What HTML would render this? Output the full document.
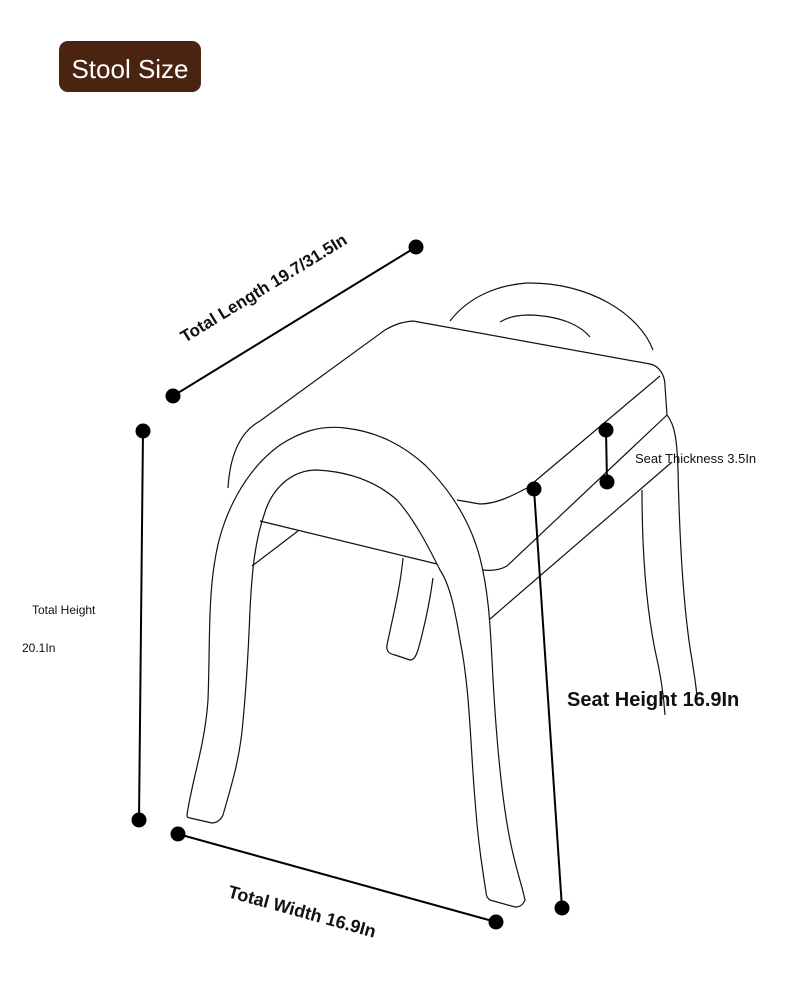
<!DOCTYPE html>
<html><head><meta charset="utf-8"><style>
body{margin:0;background:#fff;}
svg{display:block}
text{font-family:"Liberation Sans",sans-serif;fill:#111}
</style></head><body>
<svg width="790" height="995" viewBox="0 0 790 995" xmlns="http://www.w3.org/2000/svg">
<rect x="59" y="41" width="142" height="51" rx="9" fill="#4a2410"/>
<text x="130" y="78" font-size="26" text-anchor="middle" style="fill:#fff">Stool Size</text>

<g fill="none" stroke="#111" stroke-width="1.2" stroke-linejoin="round">
<path d="M450,321 C470,295 500,285 527,283 C590,282 640,315 653,350"/>
<path d="M500,322 C510,316 520,315 530,315 C560,316 580,325 590,337"/>
<path d="M260,521 L437,564"/>
<path d="M252,566 L298,531"/>
<path d="M403,558 C400,590 392,620 387,645 C386,652 390,654 395,655 L410,660 C414,660 416,656 418,650 C425,625 430,600 433,578"/>
<path d="M490,619 L672,462"/>
<path d="M642,490 C642,540 645,600 655,650 C662,680 664,700 665,715"/>
<path d="M667,415 C675,425 677,440 678,470 C680,560 685,620 692,660 C695,680 697,690 697,700"/>
<path d="M413,321 L650,364 C660,366 665,376 665,386 L667,415"/>
<path d="M457,500 L480,504 C495,504 510,497 527,488 L660,376"/>
<path d="M413,321 C400,322 392,326 385,330 L260,421"/>
<path d="M667,415 L507,566 C500,570 492,571 483,570"/>
<path d="M260,421 C240,432 230,455 228,488"/>
<path d="M187,815 C192,780 205,745 208,700 C210,650 208,600 215,560 C222,515 245,470 280,445 C300,432 320,425 345,428 C380,432 405,447 425,465 C450,490 470,520 480,558 C488,590 490,620 492,660 C496,740 502,800 510,840 C516,870 522,885 525,900 C523,905 520,907 515,907 L490,900 C487,898 486,895 486,892 C481,860 478,840 475,800 C470,740 470,690 460,640 C455,610 450,585 440,570 C430,550 415,520 397,500 C380,485 355,472 317,470 C290,470 272,490 265,512 C255,540 252,570 250,610 C248,660 245,700 243,721 C240,760 230,790 223,815 C221,820 216,823 212,823 L190,818 C188,818 187,817 187,815 Z"/>
</g>

<g stroke="#000" stroke-width="2">
<line x1="173" y1="396" x2="416" y2="247"/>
<line x1="143" y1="431" x2="139" y2="820"/>
<line x1="534" y1="489" x2="562" y2="908"/>
<line x1="606" y1="430" x2="607" y2="482"/>
<line x1="178" y1="834" x2="496" y2="922"/>
</g>
<g fill="#000">
<circle cx="173" cy="396" r="7.5"/><circle cx="416" cy="247" r="7.5"/>
<circle cx="143" cy="431" r="7.5"/><circle cx="139" cy="820" r="7.5"/>
<circle cx="534" cy="489" r="7.5"/><circle cx="562" cy="908" r="7.5"/>
<circle cx="606" cy="430" r="7.5"/><circle cx="607" cy="482" r="7.5"/>
<circle cx="178" cy="834" r="7.5"/><circle cx="496" cy="922" r="7.5"/>
</g>

<text x="0" y="0" font-size="17" font-weight="bold" transform="translate(185,343) rotate(-31.5)">Total Length 19.7/31.5In</text>
<text x="32" y="614" font-size="12">Total Height</text>
<text x="22" y="652" font-size="12">20.1In</text>
<text x="635" y="463" font-size="13">Seat Thickness 3.5In</text>
<text x="567" y="706" font-size="20" font-weight="bold">Seat Height 16.9In</text>
<text x="0" y="0" font-size="18" font-weight="bold" transform="translate(227,897) rotate(15.5)">Total Width 16.9In</text>
</svg>
</body></html>
